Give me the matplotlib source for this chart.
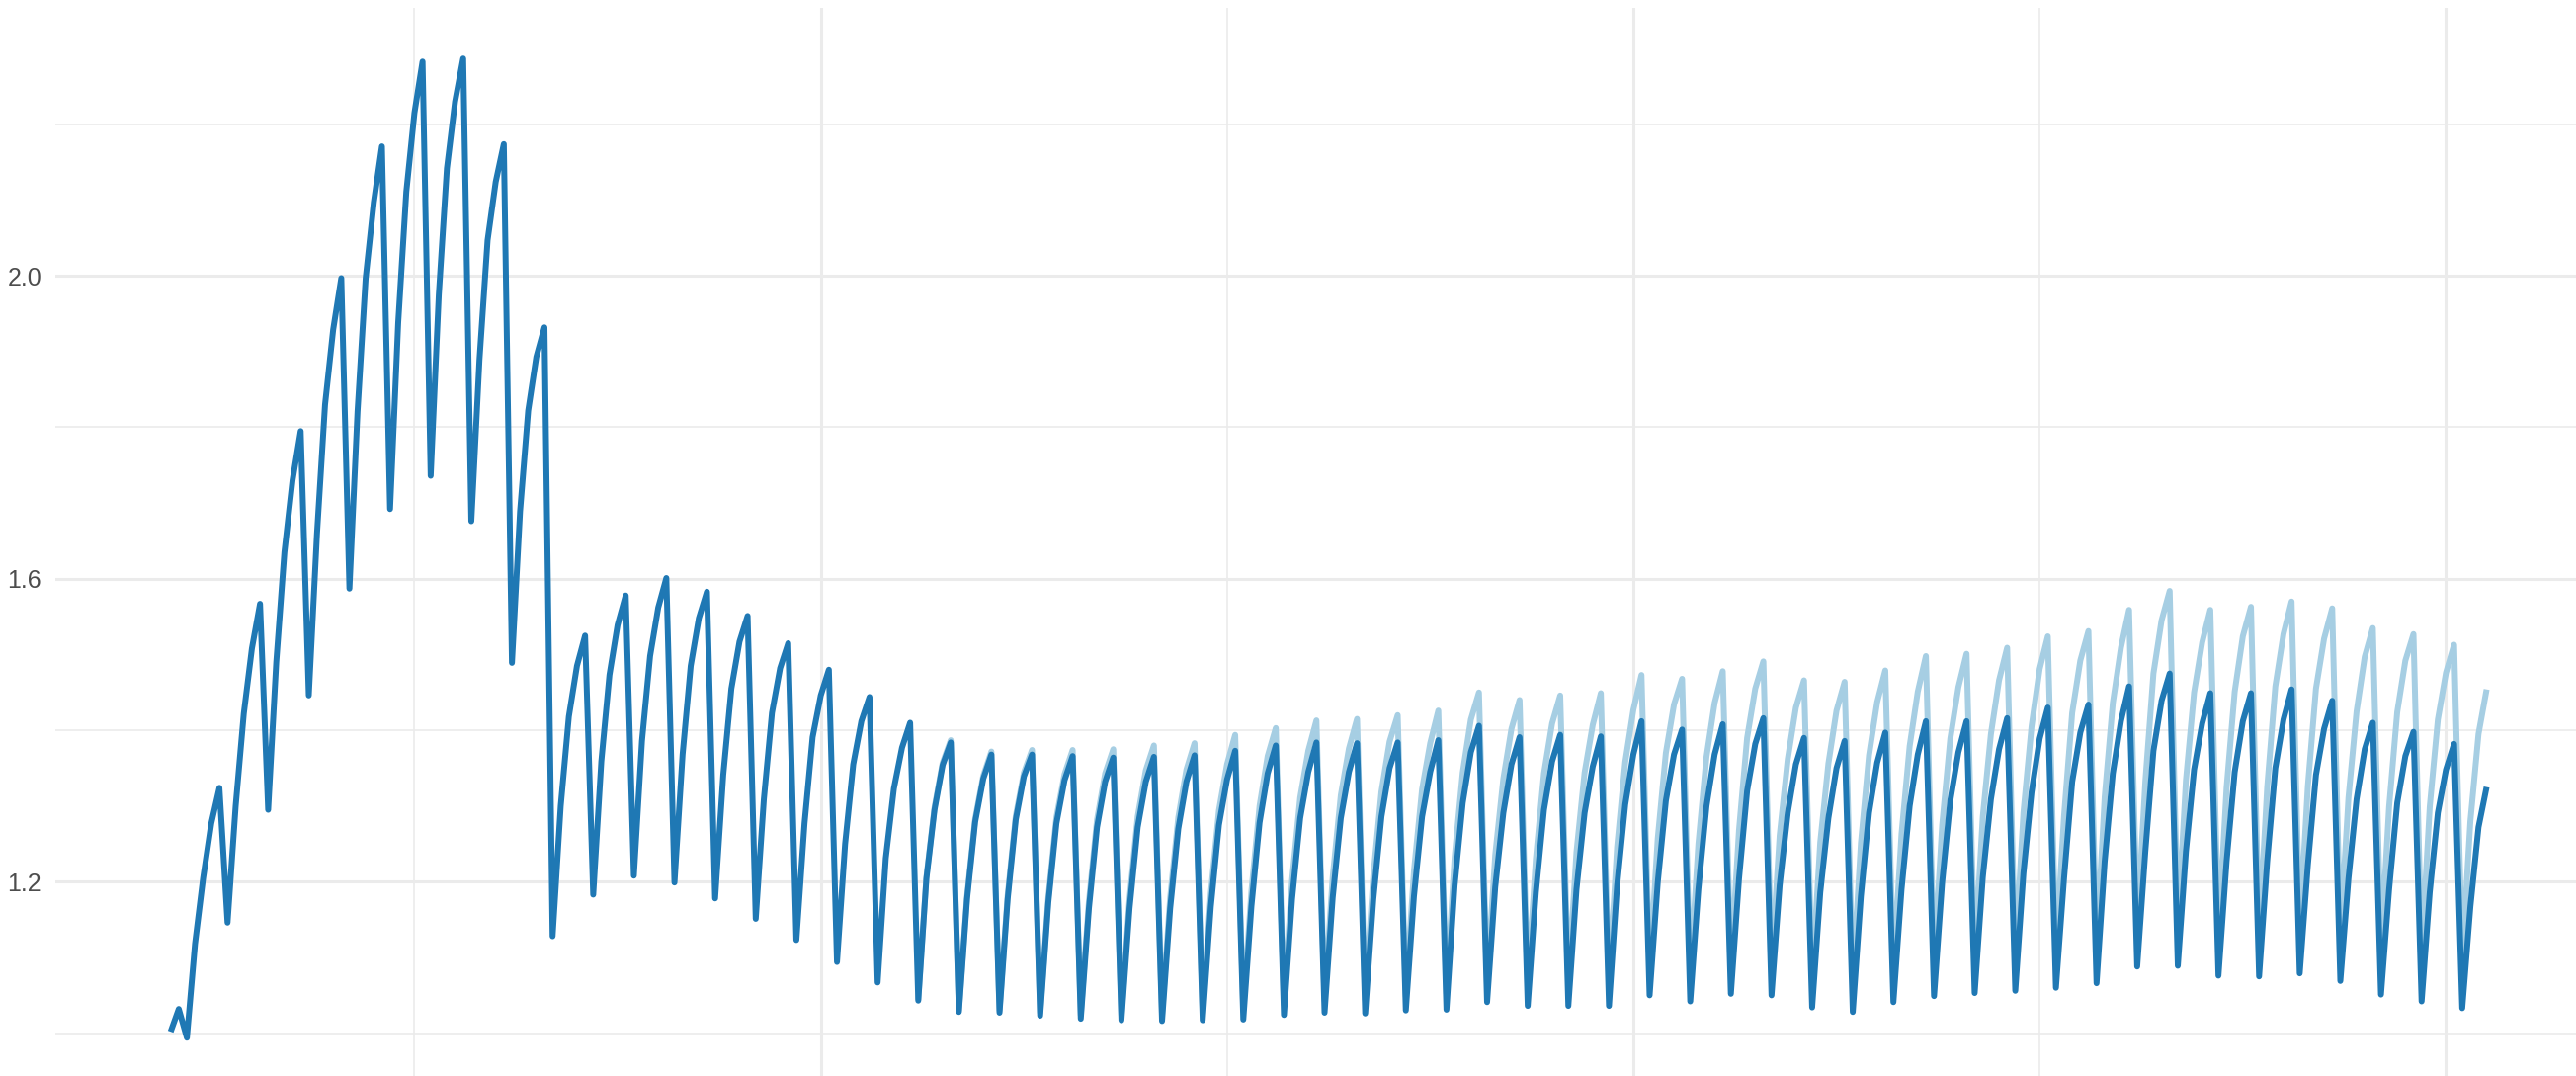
import numpy as np
import matplotlib
matplotlib.use('Agg')
import matplotlib.pyplot as plt
from matplotlib.ticker import MultipleLocator

# ==========================================
# 資料（自圖上讀取）
# ==========================================
X_START = 20          # 第一個點的 x 值

# 深藍線：每 5 點一個週期（谷 -> 上升 3 點 -> 峰）
dark_vals = [
    1.002, 1.032,
    0.994, 1.118, 1.205, 1.277, 1.324,
    1.146, 1.300, 1.422, 1.508, 1.567,
    1.295, 1.490, 1.635, 1.730, 1.795,
    1.446, 1.658, 1.830, 1.929, 1.997,
    1.587, 1.821, 1.997, 2.097, 2.171,
    1.692, 1.938, 2.111, 2.215, 2.283,
    1.736, 1.975, 2.142, 2.230, 2.287,
    1.676, 1.889, 2.047, 2.124, 2.174,
    1.489, 1.689, 1.822, 1.893, 1.932,
    1.128, 1.300, 1.418, 1.485, 1.525,
    1.183, 1.359, 1.473, 1.539, 1.578,
    1.208, 1.386, 1.498, 1.562, 1.601,
    1.199, 1.368, 1.485, 1.548, 1.583,
    1.178, 1.341, 1.455, 1.517, 1.551,
    1.151, 1.309, 1.423, 1.482, 1.515,
    1.123, 1.277, 1.391, 1.446, 1.480,
    1.094, 1.250, 1.355, 1.412, 1.444,
    1.067, 1.231, 1.323, 1.377, 1.410,
    1.043, 1.204, 1.295, 1.354, 1.384,
    1.028, 1.177, 1.279, 1.336, 1.368,
    1.027, 1.177, 1.282, 1.339, 1.368,
    1.023, 1.172, 1.277, 1.334, 1.366,
    1.019, 1.165, 1.272, 1.332, 1.364,
    1.017, 1.165, 1.272, 1.332, 1.365,
    1.016, 1.165, 1.270, 1.332, 1.367,
    1.017, 1.167, 1.275, 1.335, 1.373,
    1.018, 1.168, 1.278, 1.343, 1.380,
    1.024, 1.177, 1.284, 1.345, 1.384,
    1.027, 1.179, 1.284, 1.345, 1.383,
    1.026, 1.177, 1.286, 1.350, 1.384,
    1.030, 1.181, 1.286, 1.345, 1.387,
    1.031, 1.195, 1.304, 1.371, 1.406,
    1.041, 1.193, 1.291, 1.355, 1.391,
    1.036, 1.186, 1.295, 1.359, 1.394,
    1.036, 1.190, 1.291, 1.352, 1.392,
    1.036, 1.195, 1.302, 1.368, 1.412,
    1.050, 1.199, 1.307, 1.368, 1.401,
    1.042, 1.190, 1.300, 1.368, 1.408,
    1.052, 1.204, 1.320, 1.382, 1.416,
    1.050, 1.195, 1.291, 1.355, 1.390,
    1.034, 1.186, 1.284, 1.350, 1.386,
    1.028, 1.181, 1.291, 1.357, 1.397,
    1.041, 1.190, 1.300, 1.368, 1.412,
    1.049, 1.199, 1.307, 1.371, 1.412,
    1.053, 1.206, 1.309, 1.375, 1.416,
    1.056, 1.211, 1.318, 1.389, 1.430,
    1.060, 1.205, 1.332, 1.397, 1.434,
    1.066, 1.227, 1.343, 1.412, 1.458,
    1.088, 1.240, 1.373, 1.439, 1.475,
    1.089, 1.240, 1.348, 1.409, 1.449,
    1.076, 1.227, 1.345, 1.412, 1.449,
    1.075, 1.227, 1.350, 1.414, 1.454,
    1.079, 1.222, 1.341, 1.402, 1.439,
    1.069, 1.204, 1.309, 1.375, 1.410,
    1.051, 1.190, 1.304, 1.366, 1.398,
    1.042, 1.186, 1.291, 1.348, 1.382,
    1.033, 1.167, 1.272, 1.325,
]

# 淺藍線：在此之前與深藍線重疊（被蓋住）
LIGHT_OFFSET = 92
light_vals = [
    1.044, 1.206, 1.298, 1.357, 1.387,
    1.030, 1.181, 1.283, 1.340, 1.372,
    1.030, 1.182, 1.287, 1.344, 1.374,
    1.027, 1.179, 1.285, 1.342, 1.374,
    1.024, 1.174, 1.282, 1.343, 1.375,
    1.024, 1.178, 1.286, 1.347, 1.380,
    1.024, 1.179, 1.285, 1.348, 1.383,
    1.027, 1.185, 1.294, 1.355, 1.394,
    1.030, 1.188, 1.300, 1.366, 1.403,
    1.038, 1.202, 1.311, 1.373, 1.413,
    1.043, 1.206, 1.314, 1.376, 1.415,
    1.044, 1.208, 1.319, 1.385, 1.420,
    1.049, 1.214, 1.322, 1.383, 1.426,
    1.052, 1.232, 1.344, 1.414, 1.450,
    1.065, 1.235, 1.336, 1.402, 1.440,
    1.061, 1.230, 1.343, 1.409, 1.446,
    1.064, 1.239, 1.344, 1.407, 1.449,
    1.065, 1.246, 1.358, 1.427, 1.473,
    1.083, 1.257, 1.370, 1.434, 1.468,
    1.076, 1.250, 1.365, 1.436, 1.478,
    1.088, 1.268, 1.390, 1.455, 1.491,
    1.088, 1.261, 1.362, 1.430, 1.466,
    1.072, 1.252, 1.356, 1.426, 1.464,
    1.068, 1.251, 1.367, 1.437, 1.479,
    1.083, 1.263, 1.379, 1.451, 1.498,
    1.092, 1.275, 1.389, 1.457, 1.501,
    1.098, 1.286, 1.395, 1.466, 1.509,
    1.101, 1.291, 1.405, 1.481, 1.524,
    1.107, 1.287, 1.423, 1.492, 1.531,
    1.114, 1.312, 1.436, 1.509, 1.559,
    1.139, 1.332, 1.475, 1.545, 1.584,
    1.141, 1.334, 1.450, 1.516, 1.559,
    1.130, 1.324, 1.451, 1.524, 1.563,
    1.130, 1.325, 1.458, 1.527, 1.570,
    1.137, 1.326, 1.455, 1.521, 1.561,
    1.130, 1.311, 1.425, 1.497, 1.535,
    1.114, 1.299, 1.424, 1.492, 1.527,
    1.107, 1.299, 1.414, 1.476, 1.513,
    1.100, 1.280, 1.395, 1.454,
]

# ==========================================
# 樣式
# ==========================================
W_PX, H_PX = 2607, 1089
DPI        = 100
DARK       = '#1F78B4'
LIGHT      = '#A6CEE3'
GRID_C     = '#EBEBEB'
TEXT_C     = '#4D4D4D'
LINE_W     = 4.3

plt.rcParams['font.family'] = ['Liberation Sans', 'DejaVu Sans']

x_dark  = X_START + np.arange(len(dark_vals))
x_light = X_START + LIGHT_OFFSET + np.arange(len(light_vals))

fig = plt.figure(figsize=(W_PX / DPI, H_PX / DPI), dpi=DPI)
left_px, top_px = 56, 8
ax = fig.add_axes([left_px / W_PX, 0, 1 - left_px / W_PX, (H_PX - top_px) / H_PX])

ax.plot(x_light, light_vals, color=LIGHT, lw=LINE_W,
        solid_joinstyle='round', solid_capstyle='butt', zorder=3)
ax.plot(x_dark, dark_vals, color=DARK, lw=LINE_W,
        solid_joinstyle='round', solid_capstyle='butt', zorder=4)

# 座標範圍（面板延伸到圖外）
ax.set_xlim(5.81, 316.0)
ax.set_ylim(0.9435, 2.3538)

ax.xaxis.set_major_locator(MultipleLocator(100))
ax.xaxis.set_minor_locator(MultipleLocator(50))
ax.set_yticks([1.2, 1.6, 2.0])
ax.set_yticklabels(['1.2', '1.6', '2.0'])
ax.set_yticks([1.0, 1.4, 1.8, 2.2], minor=True)

ax.grid(which='major', color=GRID_C, lw=2.2)
ax.grid(which='minor', color=GRID_C, lw=1.2)
ax.set_axisbelow(True)

for s in ax.spines.values():
    s.set_visible(False)
ax.tick_params(which='both', length=0)
ax.tick_params(axis='y', labelsize=18, labelcolor=TEXT_C, pad=10)
ax.tick_params(axis='x', labelbottom=False)

fig.savefig('out.png', dpi=DPI)
